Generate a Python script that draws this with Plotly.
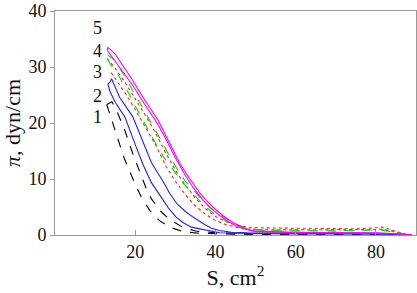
import plotly.graph_objects as go

# Curve 1 (black dashed), two branches
s1a = [12.9, 14.9, 17.2, 19.9, 21.5, 23.6, 26, 28.6, 32, 36, 40, 45, 50, 60, 70, 80, 85, 89]
p1a = [23.3, 18.7, 13.8, 9.2, 6.8, 4.4, 2.6, 1.4, 0.6, 0.3, 0.2, 0.15, 0.1, 0.1, 0.1, 0.1, 0.05, 0]
s1b = [12.9, 14.2, 15.5, 17.4, 19.4, 21.5, 22.8, 24, 26.1, 28.5, 31.8, 35, 40, 45, 50, 60, 70, 80, 85, 89]
p1b = [23.3, 23.8, 22, 18.7, 14.5, 10.5, 8.2, 6.5, 4.4, 2.8, 1.4, 0.7, 0.4, 0.3, 0.2, 0.15, 0.1, 0.1, 0.05, 0]

# Curve 2 (blue solid)
s2a = [13.2, 13.6, 15, 17.4, 20.3, 22, 24, 26.5, 28.3, 30.2, 32, 34, 37.7, 41, 45, 50, 60, 70, 80, 84, 87, 89]
p2a = [27.0, 25.8, 23.7, 21.1, 15.6, 12.5, 9.4, 6.8, 4.8, 3.2, 2.2, 1.4, 0.8, 0.4, 0.3, 0.25, 0.2, 0.2, 0.2, 0.2, 0.1, 0]
s2b = [13.2, 13.7, 14.1, 16.1, 19.4, 21, 22.5, 24, 25.5, 27, 28.6, 30.5, 32.5, 34.4, 37, 39, 41, 44, 48, 55, 60, 70, 80, 84, 87, 89]
p2b = [27.0, 27.3, 27.9, 24.6, 21.1, 18.3, 15.5, 13.0, 11.2, 9.5, 7.4, 5.5, 4.2, 3.2, 2.0, 1.2, 0.8, 0.5, 0.4, 0.35, 0.3, 0.3, 0.3, 0.25, 0.1, 0]

# Curve 3 (red dotted)
s3a = [13, 15, 17.5, 20, 22.5, 25, 27.5, 30, 32.5, 35, 37.5, 40, 42.5, 45, 48, 50, 55, 60, 65, 70, 75, 80, 81.5, 83, 85, 87, 89]
p3a = [31.5, 29.8, 27.2, 24.4, 21.4, 18.3, 14.8, 11.6, 8.9, 6.6, 4.7, 3.3, 2.4, 1.8, 1.4, 1.3, 1.2, 1.2, 1.2, 1.1, 1.1, 1.3, 1.4, 1.1, 0.6, 0.2, 0.0]
s3b = [14, 16, 18, 20, 22.5, 25, 27.8, 30, 32.5, 35, 37.5, 40, 42.5, 45, 48, 50, 55, 60, 70, 80, 82, 85, 88]
p3b = [29.0, 27.0, 24.8, 22.4, 19.4, 16.2, 12.1, 9.6, 7.2, 5.2, 3.7, 2.6, 1.9, 1.4, 1.1, 1.0, 0.9, 0.9, 0.9, 1.0, 1.0, 0.5, 0.05]

# Curve 4 (green dashed)
s4a = [13.2, 14.9, 17, 19, 21.3, 23.6, 26, 28, 30.2, 32.5, 35.2, 38, 40, 42, 44, 46, 48, 50, 55, 60, 65, 70, 75, 78, 80, 82, 84, 86, 88]
p4a = [32.1, 31.2, 28.8, 26.3, 23.5, 20.5, 17.5, 14.8, 12.1, 9.6, 7.4, 5.3, 4.2, 3.2, 2.4, 1.7, 1.2, 1.0, 0.9, 0.85, 0.85, 0.8, 0.8, 0.9, 1.1, 0.9, 0.6, 0.3, 0.05]
s4b = [13.2, 13.7, 16, 18, 20.4, 22.8, 25, 27, 29.4, 32, 34.4, 37, 40, 43, 46, 50, 55, 60, 70, 80, 82, 85, 88]
p4b = [31.4, 30.6, 28.3, 25.8, 22.5, 19.3, 16.5, 14, 11.6, 9.2, 7.4, 5.4, 3.6, 2.3, 1.4, 0.9, 0.75, 0.7, 0.7, 0.9, 0.8, 0.4, 0.05]

# Curve 5 (magenta solid)
s5a = [13.0, 13.2, 14.9, 17, 19.4, 21.5, 23.6, 25.7, 27.8, 29.5, 31.1, 32.8, 34.4, 36, 37.7, 40, 42, 44, 46, 48, 50, 55, 60, 65, 70, 75, 80, 83, 85, 87, 89]
p5a = [33.0, 33.5, 32.4, 30.2, 27.6, 25.1, 22.9, 20.5, 17.5, 15, 12.8, 10.9, 9.2, 7.6, 6.2, 4.6, 3.4, 2.4, 1.6, 1.0, 0.7, 0.55, 0.5, 0.45, 0.45, 0.4, 0.4, 0.3, 0.2, 0.1, 0.0]
s5b = [13.0, 14.5, 17, 19.4, 21.5, 23.6, 25.7, 27.8, 30, 32.7, 34.5, 36.9, 39, 41, 43, 45, 47, 50, 55, 60, 70, 80, 84, 87, 89]
p5b = [33.0, 31.5, 29.2, 26.7, 24.3, 22.0, 19.7, 16.9, 13.8, 10.4, 8.4, 6.2, 4.7, 3.5, 2.5, 1.7, 1.1, 0.6, 0.45, 0.4, 0.35, 0.3, 0.25, 0.1, 0.0]

labels = ["1", "2", "3", "4", "5"]
label_y = [21.0, 24.8, 29.1, 32.8, 37.0]
label_x = 10.7

x_ticks = [20, 40, 60, 80]
y_ticks = [0, 10, 20, 30, 40]

series = [
    (s1a, p1a, "black", "dash"), (s1b, p1b, "black", "dash"),
    (s2a, p2a, "#2020ff", "solid"), (s2b, p2b, "#2020ff", "solid"),
    (s3a, p3a, "#ff2020", "dot"), (s3b, p3b, "#ff2020", "dot"),
    (s4a, p4a, "#00e000", "dash"), (s4b, p4b, "#00e000", "dash"),
    (s5a, p5a, "#ff00ff", "solid"), (s5b, p5b, "#ff00ff", "solid"),
]

FAM = "'Liberation Serif', 'Times New Roman', Times, serif"

fig = go.Figure()
for s, p, c, d in series:
    fig.add_trace(go.Scatter(x=s, y=p, mode="lines",
                             line=dict(color=c, dash=d, width=1.1),
                             showlegend=False, hoverinfo="skip"))

for t, yv in zip(labels, label_y):
    fig.add_annotation(x=label_x, y=yv, text=t, showarrow=False,
                       font=dict(family=FAM, size=18, color="#111"))

font = dict(family=FAM, size=18, color="#111")
fig.update_layout(
    width=417, height=293,
    margin=dict(l=55, r=1, t=11, b=58),
    paper_bgcolor="white", plot_bgcolor="white",
    font=font,
    xaxis=dict(range=[0, 90], tickvals=x_ticks, ticks="inside", ticklen=5,
               tickcolor="#999", linecolor="#999", linewidth=1, mirror=True,
               showgrid=False, zeroline=False, showline=True,
               title=dict(text="S, cm<sup>2</sup>", standoff=6), tickfont=font),
    yaxis=dict(range=[0, 40], tickvals=y_ticks, ticks="outside", ticklen=4,
               tickcolor="#999", linecolor="#999", linewidth=1, mirror=True,
               showgrid=False, zeroline=False, showline=True,
               title=dict(text="<i>π</i>, dyn/cm", standoff=4), tickfont=font),
)
fig.write_html("out.html", config={"displayModeBar": False, "staticPlot": True})

with open("out.html", "r", encoding="utf-8") as f:
    html = f.read()
html = html.replace("<body>", "<body style=\"margin:0;padding:0;overflow:hidden\">", 1)
with open("out.html", "w", encoding="utf-8") as f:
    f.write(html)
